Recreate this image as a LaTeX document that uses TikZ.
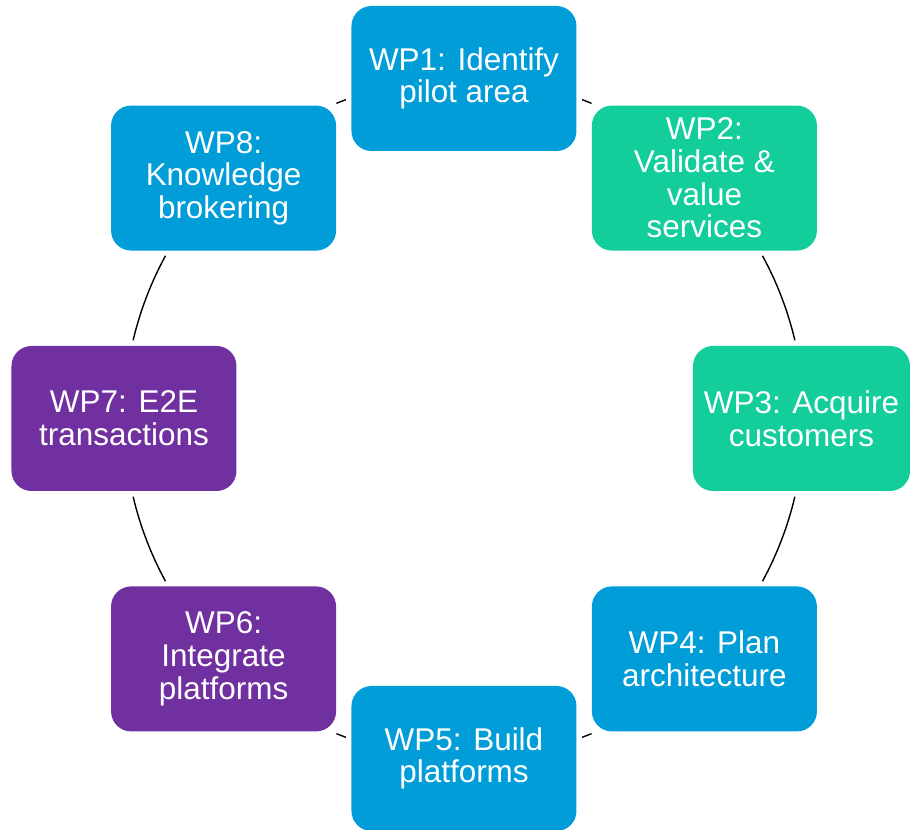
\documentclass[tikz,border=0pt]{standalone}
\usepackage{fontspec}
\setmainfont{Liberation Sans}
\definecolor{wpblue}{RGB}{0,157,217}
\definecolor{wpgreen}{RGB}{19,206,155}
\definecolor{wppurple}{RGB}{112,48,160}
\begin{document}
\begin{tikzpicture}[
			wp/.style = {rounded corners=0.4cm, minimum width=4.5cm, minimum height=2.9cm,
				text=white, align=center, inner sep=0pt,
				font=\fontsize{17.9}{18.6}\selectfont},
			blue/.style = {wp, fill=wpblue},
			green/.style = {wp, fill=wpgreen},
			purple/.style = {wp, fill=wppurple},
			ring/.style = {draw, black, line width=0.8pt},
			]
			\def\R{6.8}
			\useasboundingbox (-9.28,-8.23) rectangle (8.92,8.37);
			% arcs between the boxes
			\foreach \a/\b in {69.68/67.97, 28.59/13.31, -13.31/-28.59, -67.97/-69.68,
				-110.32/-112.03, -151.41/-166.69, 166.69/151.41, 112.03/110.32}
				\draw[ring] (\a:\R) arc[start angle=\a, end angle=\b, radius=\R];
			\node[blue] (wp1) at (90:\R) {WP1: Identify\\pilot area};
			\node[green] (wp2) at (45:\R) {WP2:\\Validate \&\\value\\services};
			\node[green, minimum width=4.34cm] (wp3) at (6.75,0) {WP3: Acquire\\customers};
			\node[blue] (wp4) at (-45:\R) {WP4: Plan\\architecture};
			\node[blue] (wp5) at (-90:\R) {WP5: Build\\platforms};
			\node[purple] (wp6) at (-135:\R) {WP6:\\Integrate\\platforms};
			\node[purple] (wp7) at (180:\R) {WP7: E2E\\transactions};
			\node[blue] (wp8) at (135:\R) {WP8:\\Knowledge\\brokering};
		\end{tikzpicture}
\end{document}
